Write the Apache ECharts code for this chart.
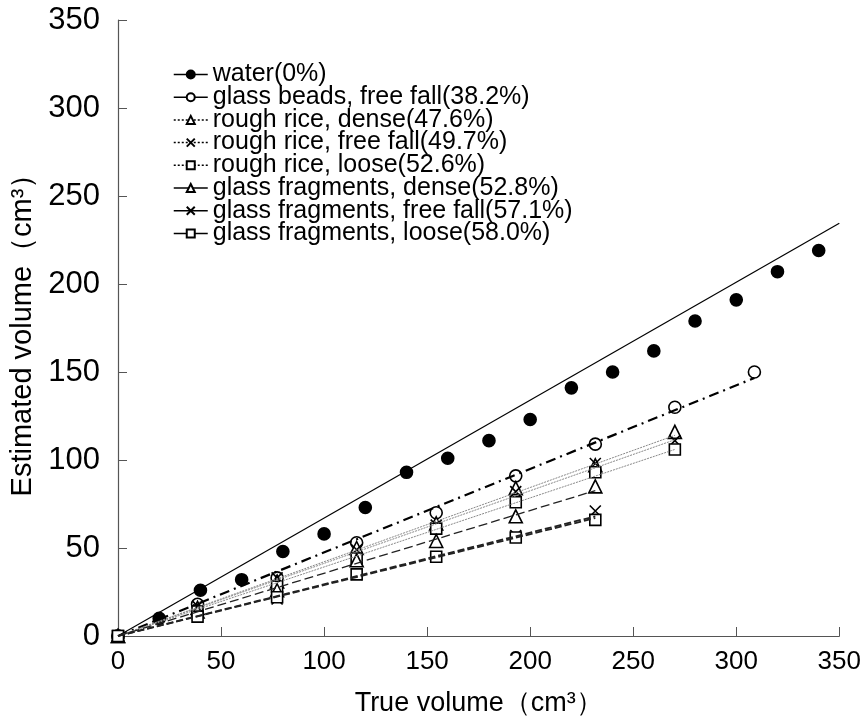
<!DOCTYPE html>
<html>
<head>
<meta charset="utf-8">
<script src="https://cdn.jsdelivr.net/npm/echarts@6/dist/echarts.min.js"></script>
<style>html,body{margin:0;padding:0;background:#fff}#c{width:864px;height:722px}</style>
</head>
<body>
<div id="c"></div>
<script>
// ---- data ----
const seriesNames = [
  'water(0%)',
  'glass beads, free fall(38.2%)',
  'rough rice, dense(47.6%)',
  'rough rice, free fall(49.7%)',
  'rough rice, loose(52.6%)',
  'glass fragments, dense(52.8%)',
  'glass fragments, free fall(57.1%)',
  'glass fragments, loose(58.0%)'
];
const waterX = [0, 20, 40, 60, 80, 100, 120, 140, 160, 180, 200, 220, 240, 260, 280, 300, 320, 340];
const waterY = [0, 10, 26, 32, 48, 58, 73, 93, 101, 111, 123, 141, 150, 162, 179, 191, 207, 219];
const trueX = [0, 38.6, 77.2, 115.8, 154.4, 193, 231.6, 270.2, 308.8];
const glassBeadsFree = [0, 18, 33, 53, 70, 91, 109, 130, 150];
const riceDense      = [0, 16, 31, 50, 64, 84, 97, 116];
const riceFree       = [0, 17, 33, 49, 63, 82, 98, 111];
const riceLoose      = [0, 14, 28, 44, 61, 76, 93, 106];
const fragDense      = [0, 14, 26, 43, 54, 68, 85];
const fragFree       = [0, 12, 21, 35, 45, 57, 71];
const fragLoose      = [0, 11, 22, 35, 45, 56, 66];
// trend line end points (each starts at the origin)
const trendEnds = [
  [350, 234.5],
  [308.8, 146.6],
  [270.2, 114],
  [270.2, 111.5],
  [270.2, 106],
  [231.6, 82.6],
  [231.6, 68],
  [231.6, 67]
];
const xTicks = [0, 350, 50];
const yTicks = [0, 350, 50];

// ---- styles ----
const FONT = 'Liberation Sans';
const crossPath = 'path://M0,0L10,10M10,0L0,10';
const styles = [
  {symbol: 'circle', size: 12, fill: '#000', line: {type: 'solid', width: 1.2, color: '#000'}},
  {symbol: 'circle', size: 12, fill: '#fff', line: {type: [10, 5, 2, 5], width: 2.2, color: '#000'}},
  {symbol: 'triangle', size: 13, fill: '#fff', line: {type: [2, 1], width: 1, color: '#888'}},
  {symbol: crossPath, size: 11, fill: '#fff', line: {type: [2, 1], width: 1, color: '#888'}},
  {symbol: 'rect', size: 11, fill: '#fff', line: {type: [2, 1], width: 1, color: '#888'}},
  {symbol: 'triangle', size: 13, fill: '#fff', line: {type: [9, 4], width: 1.3, color: '#222'}},
  {symbol: crossPath, size: 11, fill: '#fff', line: {type: [7, 3], width: 1.8, color: '#222'}},
  {symbol: 'rect', size: 11, fill: '#fff', line: {type: [7, 3], width: 1.8, color: '#222'}}
];
const ys = [waterY, glassBeadsFree, riceDense, riceFree, riceLoose, fragDense, fragFree, fragLoose];

const series = ys.map((yv, i) => {
  const xs = i === 0 ? waterX : trueX;
  const st = styles[i];
  return {
    name: seriesNames[i],
    type: 'line',
    data: yv.map((v, k) => [xs[k], v]),
    symbol: st.symbol,
    symbolSize: st.size,
    showAllSymbol: true,
    lineStyle: {opacity: 0, width: 0},
    itemStyle: {color: st.fill, borderColor: '#000', borderWidth: 1.6},
    z: 3,
    markLine: {
      silent: true,
      symbol: ['none', 'none'],
      label: {show: false},
      lineStyle: Object.assign({}, st.line),
      emphasis: {disabled: true},
      data: [[{coord: [0, 0]}, {coord: trendEnds[i]}]]
    }
  };
});

const legendData = seriesNames.map((n, i) => ({
  name: n,
  lineStyle: {opacity: 1, color: '#000', width: 1.5,
    type: (i >= 2 && i <= 4) ? [2, 2] : 'solid'}
}));

const chart = echarts.init(document.getElementById('c'), null, {renderer: 'canvas'});
chart.setOption({
  animation: false,
  backgroundColor: '#fff',
  textStyle: {fontFamily: FONT},
  grid: {left: 118, right: 24, top: 20, bottom: 86, containLabel: false},
  legend: {
    orient: 'vertical',
    left: 168,
    top: 57,
    itemWidth: 34,
    itemHeight: 10,
    itemGap: -2.3,
    selectedMode: false,
    textStyle: {fontFamily: FONT, fontSize: 25, color: '#000'},
    data: legendData
  },
  xAxis: {
    type: 'value',
    min: xTicks[0], max: xTicks[1], interval: xTicks[2],
    name: 'True volume（cm³）',
    nameLocation: 'middle',
    nameGap: 54,
    nameTextStyle: {fontFamily: FONT, fontSize: 27, color: '#000'},
    axisLine: {show: true, lineStyle: {color: '#555', width: 1.2}},
    axisTick: {show: true, inside: true, length: 9, lineStyle: {color: '#555'}},
    axisLabel: {fontFamily: FONT, fontSize: 26, color: '#000', margin: 13},
    splitLine: {show: false}
  },
  yAxis: {
    type: 'value',
    min: yTicks[0], max: yTicks[1], interval: yTicks[2],
    name: 'Estimated volume（cm³）',
    nameLocation: 'middle',
    nameGap: 76,
    nameTextStyle: {fontFamily: FONT, fontSize: 29, color: '#000'},
    axisLine: {show: true, lineStyle: {color: '#555', width: 1.2}},
    axisTick: {show: true, inside: true, length: 9, lineStyle: {color: '#555'}},
    axisLabel: {fontFamily: FONT, fontSize: 31, color: '#000', margin: 18},
    splitLine: {show: false}
  },
  series: series
});
</script>
</body>
</html>
